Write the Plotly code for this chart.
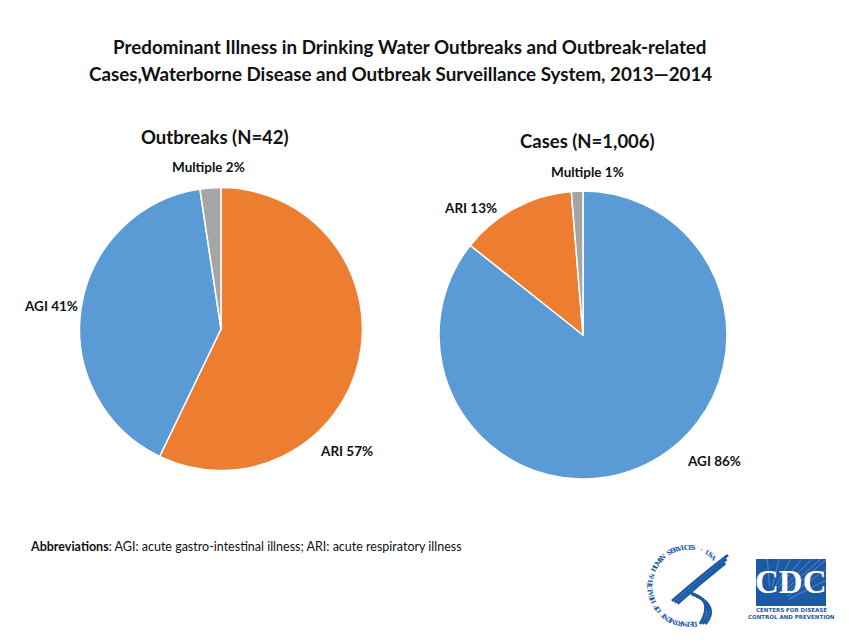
import math
import plotly.graph_objects as go

# page body has an 8px margin; map reference pixel coords onto an 833x627 figure
OFF = 8
W, H = 833, 627

# ---- data ----
categories_outbreaks = ["ARI", "AGI", "Multiple"]
values_outbreaks = [24, 17, 1]
pct_outbreaks = ["57%", "41%", "2%"]

categories_cases = ["AGI", "ARI", "Multiple"]
values_cases = [862, 131, 13]
pct_cases = ["86%", "13%", "1%"]

colors = {"AGI": "#5B9BD5", "ARI": "#ED7D31", "Multiple": "#A5A5A5"}

title_lines = ["Predominant Illness in Drinking Water Outbreaks and Outbreak-related",
               "Cases,Waterborne Disease and Outbreak Surveillance System, 2013\u20142014"]
sub_outbreaks = "Outbreaks (N=42)"
sub_cases = "Cases (N=1,006)"

FONT = "Lato"
TXT = "#111111"


def px(x):
    return (x - OFF) / W


def py(y):
    return 1 - (y - OFF) / H


fig = go.Figure()

# left pie: center (221,329), r 141.5
fig.add_trace(go.Pie(
    labels=categories_outbreaks, values=values_outbreaks, sort=False,
    direction="clockwise", rotation=0, textinfo="none", hoverinfo="label+percent",
    marker=dict(colors=[colors[c] for c in categories_outbreaks], line=dict(color="white", width=1.5)),
    domain=dict(x=[px(221 - 141.5), px(221 + 141.5)], y=[py(329 + 141.5), py(329 - 141.5)]),
    showlegend=False,
))
# right pie: center (583,335), r 144
fig.add_trace(go.Pie(
    labels=categories_cases, values=values_cases, sort=False,
    direction="clockwise", rotation=0, textinfo="none", hoverinfo="label+percent",
    marker=dict(colors=[colors[c] for c in categories_cases], line=dict(color="white", width=1.5)),
    domain=dict(x=[px(583 - 144), px(583 + 144)], y=[py(335 + 144), py(335 - 144)]),
    showlegend=False,
))

ann = []


def text(x, y, s, size, bold=True, color=TXT, anchor="center", family=FONT, angle=0):
    ann.append(dict(x=px(x), y=py(y), xref="paper", yref="paper", text=(f"<b>{s}</b>" if bold else s),
                    showarrow=False, xanchor=anchor, yanchor="middle", textangle=angle,
                    font=dict(family=family, size=size, color=color)))


text(410, 47, title_lines[0], 18.8)
text(400, 73, title_lines[1], 18.8)
text(215, 137, sub_outbreaks, 18.5)
text(587, 141, sub_cases, 18.5)

# slice labels
lbl_pos_out = {"ARI": (346, 451), "AGI": (51, 306), "Multiple": (208, 167)}
for c, p in zip(categories_outbreaks, pct_outbreaks):
    x, y = lbl_pos_out[c]
    text(x, y, f"{c} {p}", 13.5)
lbl_pos_cases = {"AGI": (714, 461), "ARI": (470, 208), "Multiple": (587, 172)}
for c, p in zip(categories_cases, pct_cases):
    x, y = lbl_pos_cases[c]
    text(x, y, f"{c} {p}", 13.5)

text(28, 546, "<b>Abbreviations</b>: AGI: acute gastro-intestinal illness; ARI: acute respiratory illness",
     12.5, bold=False, anchor="left")

# ---- CDC logo ----
BLUE = "#1c5aa6"
shapes = []
shapes.append(dict(type="rect", xref="paper", yref="paper", x0=px(756), x1=px(826), y0=py(606), y1=py(559),
                   fillcolor=BLUE, line=dict(width=0), layer="above"))
for k in range(9):
    a = math.radians(20 + k * 9)
    x0, y0 = 770, 606
    shapes.append(dict(type="line", xref="paper", yref="paper", x0=px(x0 + 20 * math.cos(a)), y0=py(y0 - 20 * math.sin(a)),
                       x1=px(min(826, x0 + 75 * math.cos(a))), y1=py(max(559, y0 - 75 * math.sin(a))),
                       line=dict(color="rgba(255,255,255,0.45)", width=0.6), layer="above"))
ann.append(dict(x=px(791), y=py(582), xref="paper", yref="paper", text="<b>CDC</b>", showarrow=False,
                font=dict(family="Liberation Serif", size=33, color="white"), xanchor="center", yanchor="middle"))
text(791, 610, "CENTERS FOR DISEASE", 5.5, color=BLUE, family="DejaVu Sans")
text(791, 617, "CONTROL AND PREVENTION", 5.5, color=BLUE, family="DejaVu Sans")

# ---- HHS logo ----
seal = "DEPARTMENT OF HEALTH & HUMAN SERVICES \u00b7 USA"
cx, cy, r = 688, 586, 38
start, end = -80, -312
n = len(seal)
for i, ch in enumerate(seal):
    ang = start + (end - start) * i / (n - 1)
    a = math.radians(ang)
    x = cx + r * math.cos(a)
    y = cy - r * math.sin(a)
    rot = 90 - ang
    ann.append(dict(x=px(x), y=py(y), xref="paper", yref="paper", text=f"<b>{ch}</b>", showarrow=False,
                    textangle=rot, font=dict(family="DejaVu Serif", size=6.5, color=BLUE),
                    xanchor="center", yanchor="middle"))


def path(d, w=2.8):
    shapes.append(dict(type="path", xref="paper", yref="paper", path=d, line=dict(color=BLUE, width=w),
                       layer="above"))


def P(x, y):
    return f"{px(x)},{py(y)}"


for o in (0, 4.5, 9):
    path(f"M {P(728 - o * 0.3, 555 + o * 0.9)} Q {P(704 - o * 0.3, 573 + o)} {P(672 + o * 0.6, 601 + o * 0.3)}")
for o in (0, 4.5, 9):
    path(f"M {P(687 + o, 592 + o * 0.4)} Q {P(716 + o * 0.4, 598 + o)} {P(700 + o * 0.6, 624)}")

fig.update_layout(
    width=W, height=H, margin=dict(l=0, r=0, t=0, b=0),
    paper_bgcolor="white", plot_bgcolor="white",
    annotations=ann, shapes=shapes,
    font=dict(family=FONT),
)

fig.write_html("out.html")
